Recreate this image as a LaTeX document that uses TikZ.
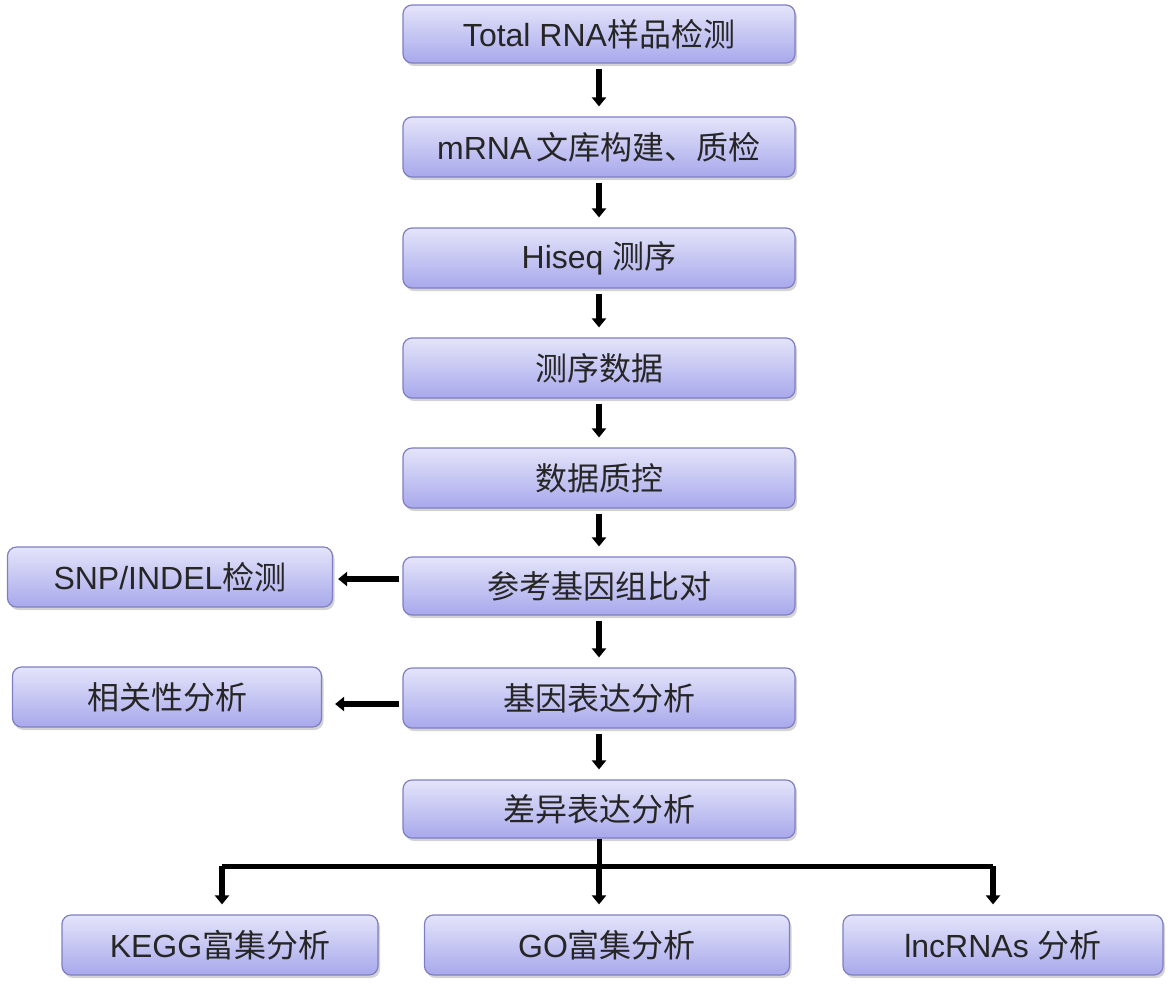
\documentclass[tikz,border=0pt]{standalone}
\usepackage{fontspec}
\setmainfont{Liberation Sans}
\newfontfamily\cjk{Noto Sans CJK SC}
\usetikzlibrary{arrows.meta,shadows}
\definecolor{boxtop}{HTML}{E4E4FA}
\definecolor{boxbot}{HTML}{A8A8EC}
\definecolor{boxline}{HTML}{7E7EC4}
\tikzset{
  stepbox/.style={draw=boxline, line width=1.2pt, rounded corners=9pt,
    top color=boxtop, bottom color=boxbot,
    drop shadow={shadow xshift=2pt, shadow yshift=-3pt, opacity=0.35, fill=gray},
    font=\fontsize{32}{36}\selectfont, text=black!85, inner sep=0pt, anchor=center},
  arr/.style={line width=5.5pt, -{Triangle[width=14pt,length=9pt]}},
  bar/.style={line width=5pt}
}
\begin{document}
\begin{tikzpicture}[x=1pt,y=-1pt]
\useasboundingbox (0,0) rectangle (1172,989);
\node[stepbox, minimum width=392pt, minimum height=58pt] (n1) at (599,34) {Total RNA\cjk 样品检测};
\node[stepbox, minimum width=392pt, minimum height=60pt] (n2) at (599,147) {mRNA\,{\cjk 文库构建、质检}};
\node[stepbox, minimum width=392pt, minimum height=60pt] (n3) at (599,258) {Hiseq {\cjk 测序}};
\node[stepbox, minimum width=392pt, minimum height=60pt] (n4) at (599,368) {\cjk 测序数据};
\node[stepbox, minimum width=392pt, minimum height=60pt] (n5) at (599,478) {\cjk 数据质控};
\node[stepbox, minimum width=392pt, minimum height=58pt] (n6) at (599,586) {\cjk 参考基因组比对};
\node[stepbox, minimum width=392pt, minimum height=60pt] (n7) at (599,698) {\cjk 基因表达分析};
\node[stepbox, minimum width=392pt, minimum height=58pt] (n8) at (599,809) {\cjk 差异表达分析};
\node[stepbox, minimum width=325pt, minimum height=60pt] (snp) at (170,577) {SNP/INDEL\cjk 检测};
\node[stepbox, minimum width=309pt, minimum height=60pt] (cor) at (167,697) {\cjk 相关性分析};
\node[stepbox, minimum width=316pt, minimum height=60pt] (kegg) at (220,945) {KEGG\cjk 富集分析};
\node[stepbox, minimum width=365pt, minimum height=60pt] (go) at (607,945) {GO\cjk 富集分析};
\node[stepbox, minimum width=320pt, minimum height=60pt] (lnc) at (1003,945) {lncRNAs {\cjk 分析}};
\foreach \a/\b in {n1/n2,n2/n3,n3/n4,n4/n5,n5/n6,n6/n7,n7/n8}
  \draw[arr, shorten <=5pt, shorten >=10pt] (\a.south) -- (\b.north);
\coordinate (s6) at ([yshift=-2pt]n6.west |- snp.east);
\coordinate (s7) at ([yshift=-6pt]n7.west);
\draw[arr, shorten <=3pt, shorten >=5pt] (s6) -- (snp.east |- s6);
\draw[arr, shorten <=3pt, shorten >=13pt] (s7) -- (cor.east |- s7);
\coordinate (bm) at ([yshift=-28pt]n8.south);
\coordinate (bl) at (222,866);
\coordinate (br) at (993,866);
\draw[bar] (bl) -- (br);
\draw[bar] (n8.south) -- (bm);
\draw[arr, shorten >=10pt] (bl) -- (bl |- kegg.north);
\draw[arr, shorten >=10pt] (bm) -- (bm |- go.north);
\draw[arr, shorten >=10pt] (br) -- (br |- lnc.north);
\end{tikzpicture}
\end{document}
